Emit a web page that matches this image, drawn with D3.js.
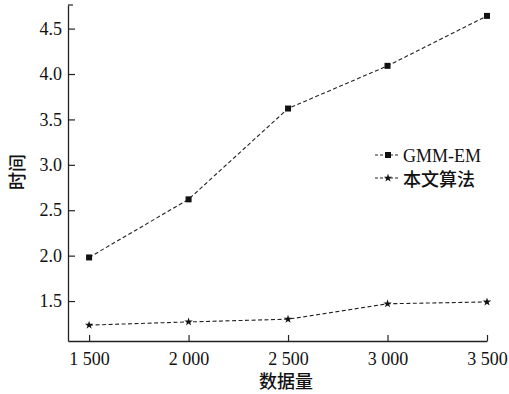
<!DOCTYPE html>
<html>
<head>
<meta charset="utf-8">
<script src="https://d3js.org/d3.v7.min.js"></script>
<style>
  body { margin: 0; background: #fff; }
  svg text { font-family: "Liberation Serif", "Times New Roman", serif; fill: #111; }
  .cjk { font-family: "Noto Sans CJK SC", sans-serif !important; font-weight: 500; }
</style>
</head>
<body>
<div id="chart"></div>
<script>
const sizes = [1500, 2000, 2500, 3000, 3500];
const gmmEm = [1.98, 2.62, 3.62, 4.09, 4.64];
const ours = [1.235, 1.27, 1.30, 1.47, 1.49];
const xTicks = [1500, 2000, 2500, 3000, 3500];
const yTicks = [1.5, 2.0, 2.5, 3.0, 3.5, 4.0, 4.5];
const seriesNames = ["GMM-EM", "本文算法"];

const w = 509, h = 394;
const padL = 68, padR = 487, padT = 5, padB = 341;

const svg = d3.select("#chart").append("svg")
  .attr("width", w).attr("height", h);

const x = d3.scaleLinear().domain([1394, 3500]).range([padL, padR]);
const y = d3.scaleLinear().domain([1.06, 4.76]).range([padB, padT]);

const fmtX = d => d3.format("d")(d).replace(/^(\d)(\d{3})$/, "$1 $2");

const xAxis = d3.axisBottom(x).tickValues(xTicks).tickFormat(fmtX)
  .tickSizeInner(-6).tickSizeOuter(0).tickPadding(11);
const yAxis = d3.axisLeft(y).tickValues(yTicks).tickFormat(d3.format(".1f"))
  .tickSizeInner(-7).tickSizeOuter(0).tickPadding(6);

const gx = svg.append("g").attr("transform", `translate(0,${padB})`).call(xAxis);
const gy = svg.append("g").attr("transform", `translate(${padL},0)`).call(yAxis);

[gx, gy].forEach(g => {
  g.select(".domain").attr("stroke", "#222").attr("stroke-width", 1.3);
  g.selectAll(".tick line").attr("stroke", "#222").attr("stroke-width", 1.2);
  g.selectAll(".tick text")
    .style("font-size", "18px")
    .style("font-family", "'Liberation Serif', serif").attr("fill", "#111");
});

// small cap at top of y axis
svg.append("line").attr("x1", padL).attr("x2", padL + 5)
  .attr("y1", padT).attr("y2", padT).attr("stroke", "#222").attr("stroke-width", 1.2);

const line = d3.line().x((d, i) => x(sizes[i])).y(d => y(d));

svg.append("path").datum(gmmEm).attr("d", line)
  .attr("fill", "none").attr("stroke", "#222").attr("stroke-width", 1.1)
  .attr("stroke-dasharray", "4,2.5");
svg.append("path").datum(ours).attr("d", line)
  .attr("fill", "none").attr("stroke", "#222").attr("stroke-width", 1.1)
  .attr("stroke-dasharray", "4,2.5");

svg.selectAll(".sq").data(gmmEm).enter().append("rect")
  .attr("x", (d, i) => x(sizes[i]) - 3).attr("y", d => y(d) - 3)
  .attr("width", 6).attr("height", 6).attr("fill", "#111");

const star = d3.symbol().type(d3.symbolStar).size(22);
svg.selectAll(".st").data(ours).enter().append("path")
  .attr("d", star)
  .attr("transform", (d, i) => `translate(${x(sizes[i])},${y(d)})`)
  .attr("fill", "#111");

// legend
const lg = svg.append("g").attr("transform", "translate(375,155)");
seriesNames.forEach((name, i) => {
  const yy = i * 23;
  lg.append("line").attr("x1", 0).attr("x2", 25).attr("y1", yy).attr("y2", yy)
    .attr("stroke", "#222").attr("stroke-width", 1.1).attr("stroke-dasharray", "3,2");
  if (i === 0) {
    lg.append("rect").attr("x", 10).attr("y", yy - 3).attr("width", 6).attr("height", 6).attr("fill", "#111");
  } else {
    lg.append("path").attr("d", star).attr("transform", `translate(13,${yy})`).attr("fill", "#111");
  }
  lg.append("text").attr("x", 28).attr("y", yy + (i === 0 ? 7 : 8))
    .attr("class", i === 1 ? "cjk" : null)
    .style("font-size", "18px")
    .text(name);
});

// axis titles
svg.append("text").attr("class", "cjk")
  .attr("text-anchor", "middle")
  .attr("transform", `translate(24,172) rotate(-90)`)
  .style("font-size", "18px")
  .text("时间");

svg.append("text").attr("class", "cjk")
  .attr("text-anchor", "middle")
  .attr("x", 286).attr("y", 388)
  .style("font-size", "18px")
  .text("数据量");
</script>
</body>
</html>
